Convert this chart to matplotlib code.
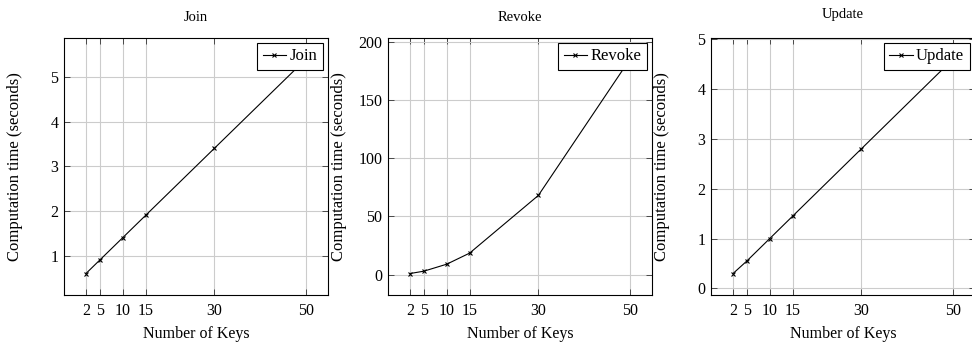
import matplotlib
matplotlib.use("Agg")
import matplotlib.pyplot as plt

plt.rcParams['font.family'] = ['Liberation Serif', 'DejaVu Serif']
plt.rcParams['font.size'] = 11

keys = [2, 5, 10, 15, 30, 50]
join_times = [0.6, 0.9, 1.4, 1.9, 3.4, 5.4]
revoke_times = [1.0, 3.0, 9.0, 18.5, 68.0, 185.0]
update_times = [0.3, 0.55, 1.0, 1.45, 2.8, 4.6]

panels = [
    ('Join', join_times, [1, 2, 3, 4, 5]),
    ('Revoke', revoke_times, [0, 50, 100, 150, 200]),
    ('Update', update_times, [0, 1, 2, 3, 4, 5]),
]
lefts = [0.0658, 0.3992, 0.7315]
title_pads = [12, 12, 14]

fig = plt.figure(figsize=(9.72, 3.45), dpi=100)
for (name, vals, yticks), left, tpad in zip(panels, lefts, title_pads):
    ax = fig.add_axes([left, 0.145, 0.2716, 0.746])
    ax.plot(keys, vals, color='black', lw=0.8, marker='x', ms=3.5, mew=0.8, label=name)
    ax.margins(0.1)
    ax.set_xticks(keys)
    ax.set_yticks(yticks)
    ax.grid(True, color='#cccccc', lw=0.8)
    ax.set_axisbelow(True)
    ax.tick_params(direction='in', top=True, right=True, length=4, width=0.6,
                   color='#333333', labelsize=11.5)
    ax.tick_params(axis='x', pad=6)
    ax.tick_params(axis='y', pad=4)
    for s in ax.spines.values():
        s.set_linewidth(0.8)
    ax.set_title(name, fontsize=10.5, pad=tpad)
    ax.set_xlabel('Number of Keys', fontsize=11.5)
    ax.set_ylabel('Computation time (seconds)', fontsize=12)
    ax.xaxis.set_label_coords(0.5, -0.12)
    ax.yaxis.set_label_coords(-0.155, 0.5)
    leg = ax.legend(loc='upper right', fancybox=False, edgecolor='black', framealpha=1,
                    fontsize=12, handlelength=1.4, handletextpad=0.2,
                    borderpad=0.35, borderaxespad=0.3)
    leg.get_frame().set_linewidth(0.8)

fig.savefig('out.png', dpi=100)
